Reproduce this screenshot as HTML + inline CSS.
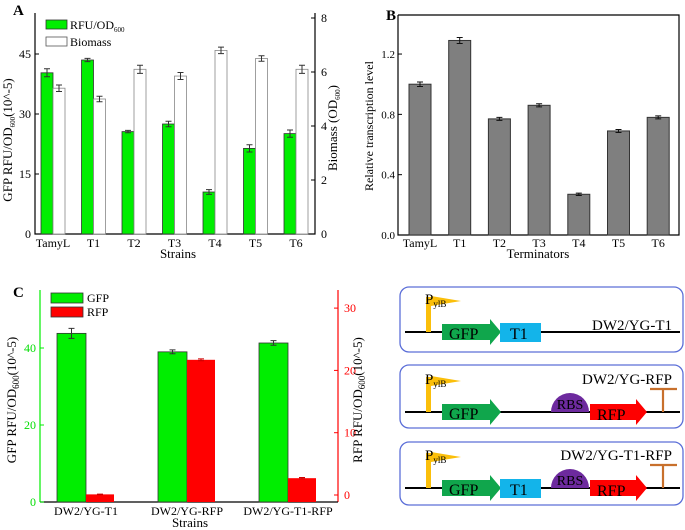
<!DOCTYPE html>
<html><head><meta charset="utf-8"><style>
body{margin:0;background:#fff}
svg{display:block;font-family:"Liberation Serif",serif}
</style></head><body>
<svg id="fig" width="685" height="530" viewBox="0 0 685 530">
<g id="A"></g>
<g id="B"></g>
<g id="C"></g>
<g id="D">
 <rect x="400" y="287" width="283" height="65" rx="9" fill="#fff" stroke="#5c6fd8" stroke-width="1.3"/>
 <line x1="405" y1="332" x2="680" y2="332" stroke="#000" stroke-width="2"/>
 <rect x="426" y="297" width="5" height="35" fill="#fbbf0a"/>
 <polygon points="431,296 461,301 431,306" fill="#fbbf0a"/>
 <text x="425" y="304" font-size="15">P<tspan font-size="9" dy="3">ylB</tspan></text>
 <polygon points="442,324 490,324 490,319 501,332 490,345 490,340 442,340" fill="#10a64c"/>
 <text x="449" y="339" font-size="16">GFP</text>
 <rect x="500" y="323" width="41" height="19" fill="#13b4ea"/>
 <text x="510" y="339" font-size="16">T1</text>
 <text x="672" y="330" font-size="15" text-anchor="end">DW2/YG-T1</text>
 <rect x="400" y="365" width="283" height="63" rx="9" fill="#fff" stroke="#5c6fd8" stroke-width="1.3"/>
 <line x1="405" y1="412" x2="680" y2="412" stroke="#000" stroke-width="2"/>
 <rect x="426" y="377" width="5" height="35" fill="#fbbf0a"/>
 <polygon points="431,376 461,381 431,386" fill="#fbbf0a"/>
 <text x="425" y="384" font-size="15">P<tspan font-size="9" dy="3">ylB</tspan></text>
 <polygon points="442,404 490,404 490,399 501,412 490,425 490,420 442,420" fill="#10a64c"/>
 <text x="449" y="419" font-size="16">GFP</text>
 <path d="M551,412 A19,19 0 0 1 589,412 Z" fill="#6d2a9e"/>
 <text x="570" y="409" font-size="14" text-anchor="middle">RBS</text>
 <polygon points="590,404 636,404 636,399 647,412 636,425 636,420 590,420" fill="#fe0000"/>
 <text x="597" y="420" font-size="16">RFP</text>
 <path d="M663,412 V389 M650,389 H677" stroke="#c8702c" stroke-width="2.2" fill="none"/>
 <text x="672" y="384" font-size="15" text-anchor="end">DW2/YG-RFP</text>
 <rect x="400" y="442" width="283" height="63" rx="9" fill="#fff" stroke="#5c6fd8" stroke-width="1.3"/>
 <line x1="405" y1="488" x2="680" y2="488" stroke="#000" stroke-width="2"/>
 <rect x="426" y="453" width="5" height="35" fill="#fbbf0a"/>
 <polygon points="431,452 461,457 431,462" fill="#fbbf0a"/>
 <text x="425" y="460" font-size="15">P<tspan font-size="9" dy="3">ylB</tspan></text>
 <polygon points="442,480 490,480 490,475 501,488 490,501 490,496 442,496" fill="#10a64c"/>
 <text x="449" y="495" font-size="16">GFP</text>
 <rect x="500" y="479" width="41" height="19" fill="#13b4ea"/>
 <text x="510" y="495" font-size="16">T1</text>
 <path d="M551,488 A19,19 0 0 1 589,488 Z" fill="#6d2a9e"/>
 <text x="570" y="485" font-size="14" text-anchor="middle">RBS</text>
 <polygon points="590,480 636,480 636,475 647,488 636,501 636,496 590,496" fill="#fe0000"/>
 <text x="597" y="496" font-size="16">RFP</text>
 <path d="M663,488 V465 M650,465 H677" stroke="#c8702c" stroke-width="2.2" fill="none"/>
 <text x="672" y="460" font-size="15" text-anchor="end">DW2/YG-T1-RFP</text>
</g>
</svg>
<script>
const NS='http://www.w3.org/2000/svg';
const aCats=['TamyL','T1','T2','T3','T4','T5','T6'];
const aGfp=[40.3,43.5,25.6,27.5,10.5,21.4,25.1];
const aGfpErr=[1.0,0.4,0.3,0.7,0.6,0.9,0.9];
const aBio=[5.4,5.0,6.1,5.85,6.8,6.5,6.1];
const aBioErr=[0.12,0.1,0.15,0.13,0.12,0.1,0.15];
const aLeftTicks=[0,15,30,45];
const aRightTicks=[0,2,4,6,8];
const bCats=['TamyL','T1','T2','T3','T4','T5','T6'];
const bVals=[1.0,1.29,0.77,0.86,0.27,0.69,0.78];
const bErr=[0.015,0.02,0.01,0.01,0.008,0.01,0.01];
const bTicks=[0.0,0.4,0.8,1.2];
const cCats=['DW2/YG-T1','DW2/YG-RFP','DW2/YG-T1-RFP'];
const cGfp=[43.8,39.0,41.3];
const cGfpErr=[1.3,0.5,0.6];
const cRfp=[0.1,21.7,2.7];
const cRfpErr=[0.05,0.15,0.1];
const cLeftTicks=[0,20,40];
const cRightTicks=[0,10,20,30];

function el(p,tag,at,txt){const e=document.createElementNS(NS,tag);for(const k in at)e.setAttribute(k,at[k]);if(txt!==undefined)e.textContent=txt;p.appendChild(e);return e;}
function err(p,x,y1,y2,c){el(p,'path',{d:`M${x},${y1}V${y2}M${x-3},${y1}H${x+3}M${x-3},${y2}H${x+3}`,stroke:c||'#333','stroke-width':1,fill:'none'});}

(function(){
const g=document.getElementById('A');
const L=35,R=315,T=13,B=234;
const yL=v=>B-v*4.0, yR=v=>B-v*27;
const cx=i=>53+i*40.5;
el(g,'path',{d:`M${L},${T}V${B}H${R}V${T}`,stroke:'#000',fill:'none','stroke-width':1.2});
aLeftTicks.forEach(v=>{el(g,'line',{x1:L,x2:L+4,y1:yL(v),y2:yL(v),stroke:'#000'});el(g,'text',{x:L-4,y:yL(v)+4,'font-size':12,'text-anchor':'end'},v);});
aRightTicks.forEach(v=>{el(g,'line',{x1:R-4,x2:R,y1:yR(v),y2:yR(v),stroke:'#000'});el(g,'text',{x:R+6,y:yR(v)+4,'font-size':12},v);});
aCats.forEach((c,i)=>{
 const x=cx(i);
 const r=el(g,'rect',{x:x-12,y:yL(aGfp[i]),width:12,height:B-yL(aGfp[i]),fill:'#00ee00',stroke:'#333','stroke-width':0.8});
 
 
 err(g,x-6,yL(aGfp[i]-aGfpErr[i]),yL(aGfp[i]+aGfpErr[i]));
 const w=el(g,'rect',{x:x,y:yR(aBio[i]),width:12,height:B-yR(aBio[i]),fill:'#fff',stroke:'#888','stroke-width':0.8});
 
 
 err(g,x+6,yR(aBio[i]-aBioErr[i]),yR(aBio[i]+aBioErr[i]));
 el(g,'text',{x:x,y:B+13,'font-size':12,'text-anchor':'middle'},c);
});
el(g,'text',{x:L+143,y:B+24,'font-size':13,'text-anchor':'middle'},'Strains');
el(g,'text',{x:13,y:15,'font-size':15,'font-weight':'bold'},'A');
el(g,'rect',{x:46,y:20,width:21,height:9,fill:'#00ee00',stroke:'#333','stroke-width':0.8});
el(g,'rect',{x:46,y:37,width:21,height:9,fill:'#fff',stroke:'#555','stroke-width':0.8});
const t1=el(g,'text',{x:70,y:29,'font-size':12},'RFU/OD');el(t1,'tspan',{'font-size':7,dy:3},'600');
el(g,'text',{x:70,y:46,'font-size':12},'Biomass');
const yl=el(g,'text',{transform:'translate(12,140) rotate(-90)','font-size':13,'text-anchor':'middle'},'GFP RFU/OD');
el(yl,'tspan',{'font-size':7,dy:3},'600');el(yl,'tspan',{dy:-3},'(10^-5)');
const yr=el(g,'text',{transform:'translate(337,128) rotate(-90)','font-size':13,'text-anchor':'middle'},'Biomass (OD');
el(yr,'tspan',{'font-size':7,dy:3},'600');el(yr,'tspan',{dy:-3},')');
})();

(function(){
const g=document.getElementById('B');
const L=398,R=679,T=15,B=235;
const y=v=>B-v*150.8;
const cx=i=>420+i*39.7;
el(g,'path',{d:`M${L},${T}V${B}H${R}V${T}H${L}`,stroke:'#000',fill:'none','stroke-width':1.2});
bTicks.forEach(v=>{el(g,'line',{x1:L,x2:L+4,y1:y(v),y2:y(v),stroke:'#000'});el(g,'text',{x:L-3,y:y(v)+4,'font-size':11,'text-anchor':'end'},v.toFixed(1));});
bCats.forEach((c,i)=>{
 const x=cx(i);
 const r=el(g,'rect',{x:x-11,y:y(bVals[i]),width:22,height:B-y(bVals[i]),fill:'#7f7f7f',stroke:'#333','stroke-width':1});
 
 
 err(g,x,y(bVals[i]-bErr[i]),y(bVals[i]+bErr[i]),'#111');
 el(g,'text',{x:x,y:B+12,'font-size':12,'text-anchor':'middle'},c);
});
el(g,'text',{x:538,y:B+23,'font-size':13,'text-anchor':'middle'},'Terminators');
el(g,'text',{x:386,y:20,'font-size':15,'font-weight':'bold'},'B');
el(g,'text',{transform:'translate(373,126) rotate(-90)','font-size':12,'text-anchor':'middle'},'Relative transcription level');
})();

(function(){
const g=document.getElementById('C');
const L=40,R=338,T=290,B=502;
const yL=v=>B-v*3.85, yR=v=>495-v*6.23;
const cx=i=>86+i*101;
el(g,'line',{x1:L,y1:T,x2:L,y2:B,stroke:'#00ee00','stroke-width':1.2});
el(g,'line',{x1:R,y1:T,x2:R,y2:B,stroke:'#ff0000','stroke-width':1.2});
el(g,'line',{x1:L,y1:B,x2:R,y2:B,stroke:'#000','stroke-width':1.3});
cLeftTicks.forEach(v=>{el(g,'line',{x1:L,x2:L+4,y1:yL(v),y2:yL(v),stroke:'#00ee00'});el(g,'text',{x:L-4,y:yL(v)+4,'font-size':12,'text-anchor':'end',fill:'#00dd00'},v);});
cRightTicks.forEach(v=>{el(g,'line',{x1:R-4,x2:R,y1:yR(v),y2:yR(v),stroke:'#ff0000'});el(g,'text',{x:R+6,y:yR(v)+4,'font-size':12,fill:'#ff0000'},v);});
cCats.forEach((c,i)=>{
 const x=cx(i);
 const r=el(g,'rect',{x:x-29,y:yL(cGfp[i]),width:29,height:B-yL(cGfp[i]),fill:'#00ee00',stroke:'#333','stroke-width':0.8});
 
 
 err(g,x-14.5,yL(cGfp[i]-cGfpErr[i]),yL(cGfp[i]+cGfpErr[i]));
 const q=el(g,'rect',{x:x,y:yR(cRfp[i]),width:28,height:B-yR(cRfp[i]),fill:'#ff0000'});
 
 
 err(g,x+14,yR(cRfp[i]-cRfpErr[i]),yR(cRfp[i]+cRfpErr[i]),'#cc0000');
 el(g,'text',{x:x,y:B+13,'font-size':12,'text-anchor':'middle'},c);
});
el(g,'text',{x:190,y:B+25,'font-size':13,'text-anchor':'middle'},'Strains');
el(g,'text',{x:13,y:297,'font-size':15,'font-weight':'bold'},'C');
el(g,'rect',{x:51,y:293,width:32,height:10,fill:'#00ee00',stroke:'#333','stroke-width':0.8});
el(g,'rect',{x:51,y:307,width:32,height:10,fill:'#ff0000',stroke:'#333','stroke-width':0.8});
el(g,'text',{x:87,y:302,'font-size':12},'GFP');
el(g,'text',{x:87,y:316,'font-size':12},'RFP');
const yl=el(g,'text',{transform:'translate(16,400) rotate(-90)','font-size':13,'text-anchor':'middle'},'GFP RFU/OD');
el(yl,'tspan',{'font-size':9,dy:3},'600');el(yl,'tspan',{dy:-3},'(10^-5)');
const yr=el(g,'text',{transform:'translate(362,400) rotate(-90)','font-size':13,'text-anchor':'middle'},'RFP RFU/OD');
el(yr,'tspan',{'font-size':9,dy:3},'600');el(yr,'tspan',{dy:-3},'(10^-5)');
})();
</script>
</body></html>
